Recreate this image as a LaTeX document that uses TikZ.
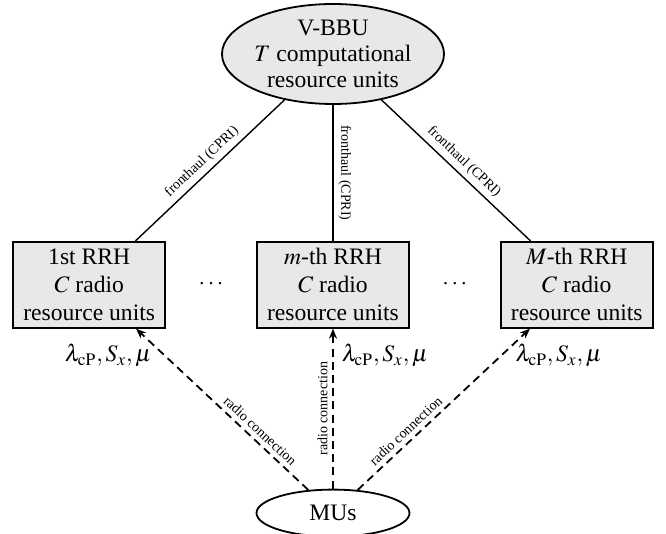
\documentclass[tikz,border=0pt]{standalone}
\usepackage{mathptmx}
\usepackage[no-math]{fontspec}
\setmainfont{Liberation Serif}
\usetikzlibrary{
	arrows.meta,
	positioning,
	shapes.geometric
}

\begin{document}
\begin{tikzpicture}[>={Stealth[length=5pt,width=4pt]},
		unitbox/.style={draw,line width=0.9pt,fill=gray!18,minimum width=76pt,minimum height=43pt,
			inner sep=1pt,align=center,font=\fontsize{11.8}{14}\selectfont},
		bbucloud/.style={draw,ellipse,line width=0.9pt,fill=gray!18,minimum width=110pt,minimum height=50pt,
			inner sep=0pt,align=center,font=\fontsize{11.8}{13}\selectfont},
		fronthaul/.style={line width=0.7pt},
		radiolink/.style={->,line width=0.9pt,dash pattern=on 4pt off 2.6pt},
		linklabel/.style={font=\fontsize{7}{8}\selectfont,inner sep=2.3pt,sloped,above},
		paramlabel/.style={font=\fontsize{11.8}{14}\selectfont,inner sep=1pt}]
	
	\useasboundingbox (-166.5pt,27pt) rectangle (166.5pt,-240pt);
	
	\node[bbucloud] (vbbu) at (0,0)
	{V-BBU\\$T$ computational\\resource units};
	
	\node[unitbox,below=68pt of vbbu] (rrhm)
	{$m$-th RRH\\$C$ radio\\resource units};
	
	\node[unitbox,left=45pt of rrhm] (rrh1)
	{1st RRH\\$C$ radio\\resource units};
	
	\node[unitbox,right=45pt of rrhm] (rrhM)
	{$M$-th RRH\\$C$ radio\\resource units};
	
	\node[draw,ellipse,line width=0.9pt,minimum width=76.5pt,minimum height=23.5pt,inner sep=0pt,
	font=\fontsize{11.8}{14}\selectfont,below=80pt of rrhm] (mus) {MUs};
	
	\path (rrh1) -- node[paramlabel] (dotsl) {$\cdots$} (rrhm);
	\path (rrhm) -- node[paramlabel] (dotsr) {$\cdots$} (rrhM);
	
	\node[paramlabel,below=6.5pt of rrh1.south,xshift=9.5pt] (par1) {$\lambda_{\mathrm{cP}}, S_{x}, \mu$};
	\node[paramlabel,below=6.5pt of rrhm.south,xshift=26pt] (parm) {$\lambda_{\mathrm{cP}}, S_{x}, \mu$};
	\node[paramlabel,below=6.5pt of rrhM.south,xshift=-9pt] (parM) {$\lambda_{\mathrm{cP}}, S_{x}, \mu$};
	
	\draw[fronthaul] (vbbu)--node[linklabel]{fronthaul (CPRI)}(rrh1);
	\draw[fronthaul] (vbbu)--node[linklabel]{fronthaul (CPRI)}(rrhm);
	\draw[fronthaul] (vbbu)--node[linklabel]{fronthaul (CPRI)}(rrhM);
	
	\draw[radiolink] (mus)--node[linklabel,pos=0.32]{radio connection}(rrh1);
	\draw[radiolink] (mus)--node[linklabel]{radio connection}(rrhm);
	\draw[radiolink] (mus)--node[linklabel,pos=0.32]{radio connection}(rrhM);
	
\end{tikzpicture}
\end{document}
